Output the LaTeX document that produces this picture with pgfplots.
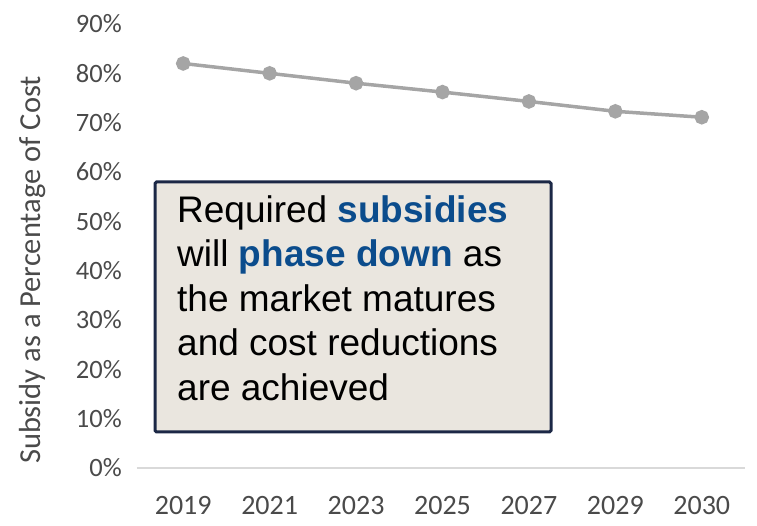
\documentclass[border=0pt]{standalone}
\usepackage{pgfplots}
\pgfplotsset{compat=1.18}
\usepackage{fontspec}
\setmainfont{Carlito}
\newfontfamily\arial{Liberation Sans}
\definecolor{linegrey}{HTML}{A5A5A5}
\definecolor{axisgrey}{HTML}{D9D9D9}
\definecolor{labgrey}{HTML}{4A4A4A}
\definecolor{boxfill}{HTML}{EAE6DF}
\definecolor{boxline}{HTML}{1C2846}
\definecolor{hiblue}{HTML}{0B4C8C}
\begin{document}
\begin{tikzpicture}
\begin{axis}[
  scale only axis,
  width=605bp, height=444bp,
  xmin=-0.5, xmax=6.5,
  ymin=0, ymax=90,
  xtick={0,1,2,3,4,5,6},
  xticklabels={2019,2021,2023,2025,2027,2029,2030},
  ytick={0,10,20,30,40,50,60,70,80,90},
  yticklabels={0\%,10\%,20\%,30\%,40\%,50\%,60\%,70\%,80\%,90\%},
  axis line style={draw=none},
  tick style={draw=none},
  ticklabel style={text=labgrey, inner sep=0pt},
  xticklabel style={anchor=base, yshift=-46bp, font=\fontsize{28bp}{32bp}\selectfont},
  yticklabel style={anchor=east, xshift=-18bp, font=\fontsize{26.5bp}{30bp}\selectfont},
  ylabel={Subsidy as a Percentage of Cost},
  ylabel style={at={(axis description cs:-0.177,0.446)}, anchor=center, font=\fontsize{30.5bp}{34bp}\selectfont, text=labgrey},
  clip=false,
]
\draw[axisgrey, line width=1.5bp] (rel axis cs:-0.005,0) -- (rel axis cs:1,0);
\addplot[color=linegrey, line width=3.5bp, mark=*, mark size=5.5bp, mark options={fill=linegrey, draw=linegrey}]
  coordinates {(0,82) (1,80) (2,78) (3,76.2) (4,74.3) (5,72.3) (6,71.1)};
\end{axis}
\draw[boxline, fill=boxfill, line width=3bp, rounded corners=1.5bp] (15bp,36bp) rectangle (411bp,286bp);
\node[anchor=north west, inner sep=0pt, align=left, font=\arial\fontsize{37bp}{44.5bp}\selectfont] at (37bp,273bp)
  {Required \textcolor{hiblue}{\bfseries subsidies}\\
   will \textcolor{hiblue}{\bfseries phase down} as\\
   the market matures\\
   and cost reductions\\
   are achieved};
\path[use as bounding box] (-140bp,-58bp) rectangle (617bp,468bp);
\end{tikzpicture}
\end{document}
